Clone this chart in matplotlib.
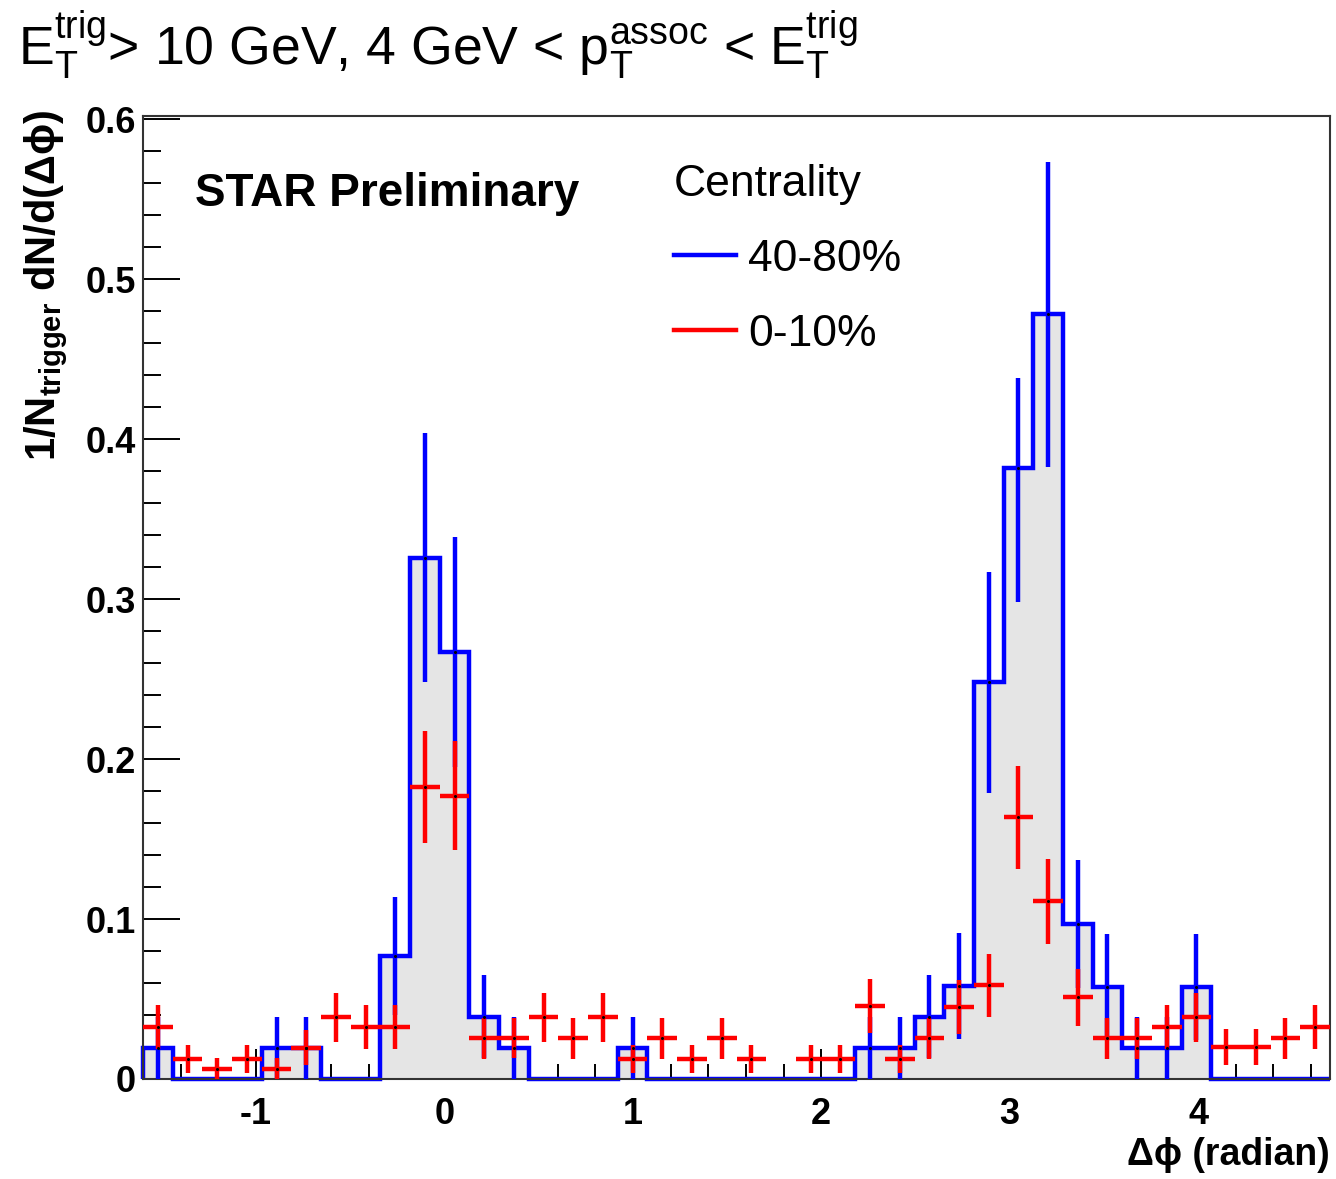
import numpy as np
import matplotlib
matplotlib.use("Agg")
import matplotlib.pyplot as plt
from matplotlib.lines import Line2D

plt.rcParams['font.family'] = ['Liberation Sans', 'DejaVu Sans']
plt.rcParams['mathtext.fontset'] = 'custom'
plt.rcParams['mathtext.rm'] = 'Liberation Sans'
plt.rcParams['mathtext.it'] = 'Liberation Sans:italic'
plt.rcParams['mathtext.bf'] = 'Liberation Sans:bold'

# ---------------- data ----------------
x_range = (-1.6, 4.7)
n_bins = 40

# 40-80% centrality (histogram, blue)
blue_vals = [0.0195, 0, 0, 0, 0.0195, 0.0195, 0, 0, 0.077, 0.326,
             0.267, 0.039, 0.0195, 0, 0, 0, 0.0195, 0, 0, 0,
             0, 0, 0, 0, 0.0195, 0.0195, 0.039, 0.058, 0.248, 0.382,
             0.478, 0.097, 0.0575, 0.0195, 0.0195, 0.0575, 0, 0, 0, 0]
blue_err_lo = [0.0195, 0, 0, 0, 0.0195, 0.0195, 0, 0, 0.037, 0.078,
               0.072, 0.026, 0.0195, 0, 0, 0, 0.0195, 0, 0, 0,
               0, 0, 0, 0, 0.0195, 0.0195, 0.026, 0.033, 0.069, 0.084,
               0.0955, 0.040, 0.033, 0.0195, 0.0195, 0.033, 0, 0, 0, 0]
blue_err_hi = [0.0195, 0, 0, 0, 0.0195, 0.0195, 0, 0, 0.037, 0.078,
               0.072, 0.026, 0.0195, 0, 0, 0, 0.0195, 0, 0, 0,
               0, 0, 0, 0, 0.0195, 0.0195, 0.026, 0.033, 0.069, 0.056,
               0.0955, 0.040, 0.033, 0.0195, 0.0195, 0.033, 0, 0, 0, 0]

# 0-10% centrality (points, red)
red_vals = [0.0325, 0.0125, 0.0065, 0.0125, 0.0065, 0.0195, 0.0385, 0.0325, 0.0325, 0.1825,
            0.177, 0.0255, 0.0255, 0.0385, 0.0255, 0.0385, 0.0125, 0.0255, 0.0125, 0.0255,
            0.0125, np.nan, 0.0125, 0.0125, 0.0455, 0.0125, 0.0255, 0.045, 0.0585, 0.1635,
            0.111, 0.051, 0.0255, 0.0255, 0.0325, 0.0385, 0.020, 0.020, 0.0255, 0.0325]
red_err = [0.014, 0.009, 0.0065, 0.009, 0.0065, 0.011, 0.0155, 0.014, 0.014, 0.035,
           0.034, 0.0128, 0.0125, 0.0155, 0.0128, 0.0155, 0.009, 0.0128, 0.009, 0.0128,
           0.009, np.nan, 0.009, 0.009, 0.017, 0.009, 0.0128, 0.017, 0.0195, 0.032,
           0.0265, 0.018, 0.0128, 0.0128, 0.014, 0.0155, 0.011, 0.011, 0.0128, 0.014]

x_ticks = [-1, 0, 1, 2, 3, 4]
x_ticklabels = ['-1', '0', '1', '2', '3', '4']
y_ticks = [0, 0.1, 0.2, 0.3, 0.4, 0.5, 0.6]
y_ticklabels = ['0', '0.1', '0.2', '0.3', '0.4', '0.5', '0.6']

legend_title = 'Centrality'
labels = ['40-80%', '0-10%']

# ---------------- figure ----------------
W, H = 1336, 1179
fig = plt.figure(figsize=(W / 100, H / 100), dpi=100)
ax = fig.add_axes([143 / W, 1 - 1079 / H, (1330 - 143) / W, (1079 - 116) / H])

edges = np.linspace(x_range[0], x_range[1], n_bins + 1)
centers = 0.5 * (edges[:-1] + edges[1:])
half_w = 0.5 * (edges[1] - edges[0])

blue = np.array(blue_vals)
ax.stairs(blue, edges, fill=True, color='#e5e5e5', zorder=1, linewidth=0)
ax.stairs(blue, edges, color='#0000ff', linewidth=3.2, zorder=2, clip_on=False)

nz = blue > 0
ax.errorbar(centers[nz], blue[nz],
            yerr=[np.array(blue_err_lo)[nz], np.array(blue_err_hi)[nz]],
            fmt='none', ecolor='#0000ff', elinewidth=3.2, capsize=0, zorder=3)

red = np.array(red_vals)
ax.errorbar(centers, red, yerr=np.array(red_err), xerr=half_w,
            fmt='none', ecolor='#ff0000', elinewidth=3.2, capsize=0, zorder=4)
ax.plot(centers[nz], blue[nz], ls='none', marker='o', ms=1.2, color='black', zorder=5)
ax.plot(centers, red, ls='none', marker='o', ms=1.2, color='black', zorder=5)

ax.set_xlim(*x_range)
ax.set_ylim(0, 0.602)
ax.set_axisbelow(True)

ax.set_xticks(x_ticks)
ax.set_xticklabels(x_ticklabels)
ax.set_xticks(np.arange(-1.6, 4.71, 0.2), minor=True)
ax.set_yticks(y_ticks)
ax.set_yticklabels(y_ticklabels)
ax.set_yticks(np.arange(0, 0.601, 0.02), minor=True)

ax.tick_params(axis='both', which='both', direction='in', top=False, right=False,
               width=1.4, color='black')
ax.tick_params(axis='x', which='major', length=21.5, pad=13, labelsize=26)
ax.tick_params(axis='x', which='minor', length=10.8)
ax.tick_params(axis='y', which='major', length=26.6, pad=5, labelsize=26)
ax.tick_params(axis='y', which='minor', length=13.3)
for lab in ax.get_xticklabels() + ax.get_yticklabels():
    lab.set_fontweight('bold')
for s in ax.spines.values():
    s.set_linewidth(1.5)
    s.set_color('#333333')

# title
fig.text(18 / W, 1 - 65 / H,
         r'$\mathrm{E}_{\mathrm{T}}^{\mathrm{trig}}$> 10 GeV, 4 GeV < '
         r'$\mathrm{p}_{\mathrm{T}}^{\mathrm{assoc}}$ < $\mathrm{E}_{\mathrm{T}}^{\mathrm{trig}}$',
         fontsize=38.6, ha='left', va='baseline')

# y label
fig.text(46 / W, 1 - 110 / H,
         r'$\mathbf{1/N}_{\mathbf{trigger}}\ \mathbf{dN/d(\Delta\phi)}$',
         rotation=90, ha='center', va='top', fontsize=30)

# x label
fig.text(1330 / W, 1 - 1165 / H, 'Δϕ (radian)', fontweight='bold',
         fontsize=27, ha='right', va='baseline')

# STAR Preliminary
fig.text(195 / W, 1 - 206 / H, 'STAR Preliminary', fontweight='bold',
         fontsize=33, ha='left', va='baseline')

handles = [Line2D([], [], color='#0000ff', lw=3.2),
           Line2D([], [], color='#ff0000', lw=3.2)]
leg = ax.legend(handles, labels, title=legend_title, loc='upper left',
                bbox_to_anchor=(674 / W, 1 - 164 / H), bbox_transform=fig.transFigure,
                frameon=False, fontsize=32, title_fontsize=32, handlelength=1.39,
                handletextpad=0.27, labelspacing=0.76, borderpad=0, borderaxespad=0,
                alignment='left')

fig.savefig('out.png', dpi=100)
